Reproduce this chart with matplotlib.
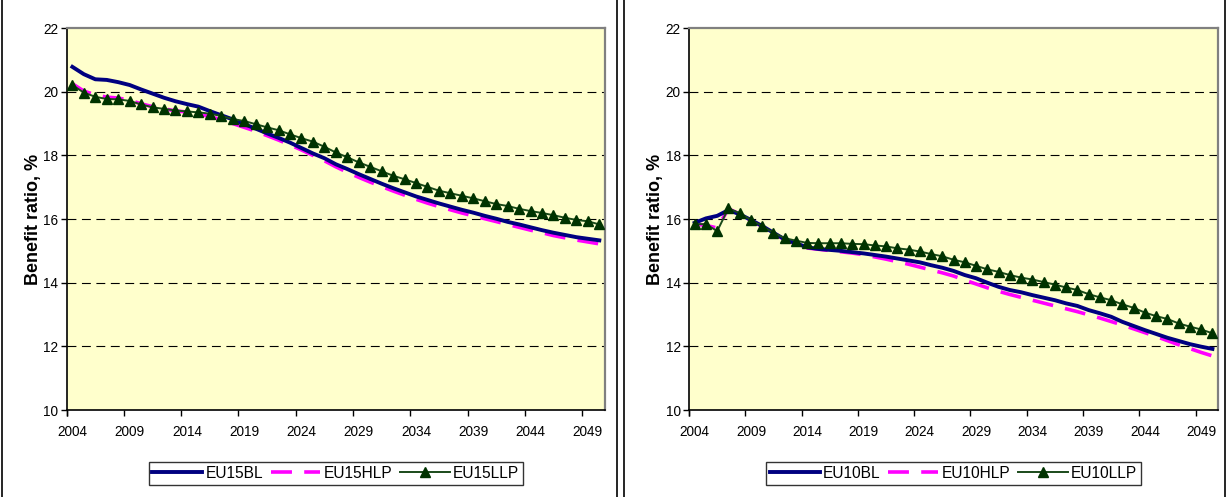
import numpy as np
import matplotlib
matplotlib.use('Agg')
import matplotlib.pyplot as plt
from matplotlib.lines import Line2D

years = list(range(2004, 2051))

# EU15 benefit ratio, %
eu15_bl = [20.78, 20.55, 20.39, 20.37, 20.30, 20.21, 20.07, 19.94, 19.81, 19.70,
           19.61, 19.53, 19.39, 19.26, 19.13, 18.98, 18.84, 18.69, 18.55, 18.40,
           18.23, 18.06, 17.91, 17.72, 17.57, 17.41, 17.26, 17.11, 16.97, 16.84,
           16.71, 16.60, 16.49, 16.39, 16.29, 16.20, 16.10, 16.01, 15.91, 15.83,
           15.74, 15.65, 15.57, 15.50, 15.43, 15.38, 15.33]
eu15_hlp = [20.25, 20.02, 19.90, 19.83, 19.80, 19.73, 19.62, 19.53, 19.46, 19.40,
            19.36, 19.30, 19.22, 19.12, 19.00, 18.88, 18.76, 18.62, 18.48, 18.33,
            18.17, 18.00, 17.83, 17.64, 17.47, 17.31, 17.16, 17.02, 16.88, 16.75,
            16.62, 16.50, 16.39, 16.29, 16.19, 16.10, 16.01, 15.92, 15.83, 15.74,
            15.65, 15.57, 15.48, 15.41, 15.34, 15.28, 15.22]
eu15_llp = [20.21, 19.97, 19.84, 19.77, 19.76, 19.71, 19.60, 19.51, 19.46, 19.41,
            19.38, 19.35, 19.31, 19.24, 19.14, 19.08, 18.98, 18.88, 18.79, 18.66,
            18.54, 18.43, 18.27, 18.09, 17.94, 17.78, 17.64, 17.50, 17.36, 17.25,
            17.13, 17.01, 16.89, 16.81, 16.73, 16.65, 16.56, 16.47, 16.41, 16.32,
            16.25, 16.19, 16.12, 16.04, 15.97, 15.93, 15.83]

# EU10 benefit ratio, %
eu10_bl = [15.88, 16.02, 16.10, 16.28, 16.15, 15.97, 15.78, 15.57, 15.36, 15.24,
           15.11, 15.06, 15.03, 15.00, 14.96, 14.92, 14.87, 14.82, 14.76, 14.70,
           14.64, 14.55, 14.47, 14.37, 14.24, 14.14, 14.00, 13.87, 13.77, 13.70,
           13.61, 13.53, 13.45, 13.35, 13.27, 13.14, 13.04, 12.93, 12.77, 12.64,
           12.51, 12.39, 12.27, 12.17, 12.07, 11.99, 11.92]
eu10_hlp = [15.84, 15.80, 15.72, 16.32, 16.16, 15.96, 15.77, 15.56, 15.35, 15.22,
            15.09, 15.05, 15.01, 14.97, 14.93, 14.88, 14.81, 14.74, 14.66, 14.58,
            14.49, 14.40, 14.31, 14.21, 14.08, 13.96, 13.84, 13.73, 13.63, 13.54,
            13.45, 13.36, 13.27, 13.18, 13.09, 12.99, 12.89, 12.78, 12.67, 12.55,
            12.43, 12.31, 12.18, 12.05, 11.93, 11.81, 11.70]
eu10_llp = [15.84, 15.84, 15.62, 16.34, 16.18, 15.97, 15.78, 15.57, 15.40, 15.32,
            15.25, 15.24, 15.24, 15.24, 15.22, 15.21, 15.17, 15.14, 15.08, 15.04,
            14.98, 14.90, 14.83, 14.72, 14.64, 14.53, 14.42, 14.34, 14.24, 14.16,
            14.10, 14.02, 13.94, 13.85, 13.77, 13.64, 13.54, 13.45, 13.32, 13.21,
            13.06, 12.95, 12.86, 12.72, 12.62, 12.53, 12.41]

tick_years = list(range(2004, 2050, 5))

plt.rcParams['font.family'] = ['Liberation Sans', 'DejaVu Sans']

fig = plt.figure(figsize=(12.3, 4.97), dpi=100)


def draw_panel(rect, bl, hlp, llp, names):
    ax = fig.add_axes(rect)
    ax.set_facecolor('#FFFFCC')
    ax.plot(years, bl, color='#000080', lw=2.8, label=names[0], zorder=3)
    ax.plot(years, hlp, color='#FF00FF', lw=2.6, dashes=(5.8, 3.4), label=names[1], zorder=2)
    ax.plot(years, llp, color='#1A4A1A', lw=1.4, marker='^', ms=7.5,
            mfc='#003300', mec='#003300', label=names[2], zorder=4)

    ax.set_xlim(2003.5, 2050.5)
    ax.set_ylim(10, 22)
    ax.set_yticks(range(10, 23, 2))
    ax.set_xticks(tick_years)
    ax.set_xticks([y - 0.5 for y in tick_years] + [2003.5], minor=True)
    ax.tick_params(axis='x', which='major', length=0, pad=11, labelsize=9.8)
    ax.tick_params(axis='x', which='minor', length=4, width=1, direction='out')
    ax.tick_params(axis='y', length=4, width=1, direction='out', labelsize=9.8, pad=2)

    for g in range(12, 21, 2):
        ax.axhline(g, color='black', lw=0.8, dashes=(8, 5), zorder=1)

    for s in ['left', 'bottom']:
        ax.spines[s].set_color('black')
        ax.spines[s].set_linewidth(1.2)
    for s in ['top', 'right']:
        ax.spines[s].set_color('#808080')
        ax.spines[s].set_linewidth(1.6)

    ax.set_ylabel('Benefit ratio, %', fontweight='bold', fontsize=13, labelpad=1)

    leg = ax.legend(loc='upper center', bbox_to_anchor=(0.5, -0.136), borderaxespad=0,
                    ncol=3, fontsize=11.2, frameon=True, fancybox=False,
                    edgecolor='black', handlelength=3.2, handletextpad=0.2,
                    columnspacing=0.5, borderpad=0.25)
    leg.get_frame().set_linewidth(1.0)
    return ax


ax1 = draw_panel([0.0542, 0.175, 0.4377, 0.7686], eu15_bl, eu15_hlp, eu15_llp,
                 ['EU15BL', 'EU15HLP', 'EU15LLP'])
ax2 = draw_panel([0.5602, 0.175, 0.4301, 0.7686], eu10_bl, eu10_hlp, eu10_llp,
                 ['EU10BL', 'EU10HLP', 'EU10LLP'])

# panel borders
for xp in [2, 617, 624, 1225]:
    fig.add_artist(Line2D([xp / 1230, xp / 1230], [0, 1], color='black', lw=1.2,
                          transform=fig.transFigure))

fig.savefig('out.png', dpi=100)
